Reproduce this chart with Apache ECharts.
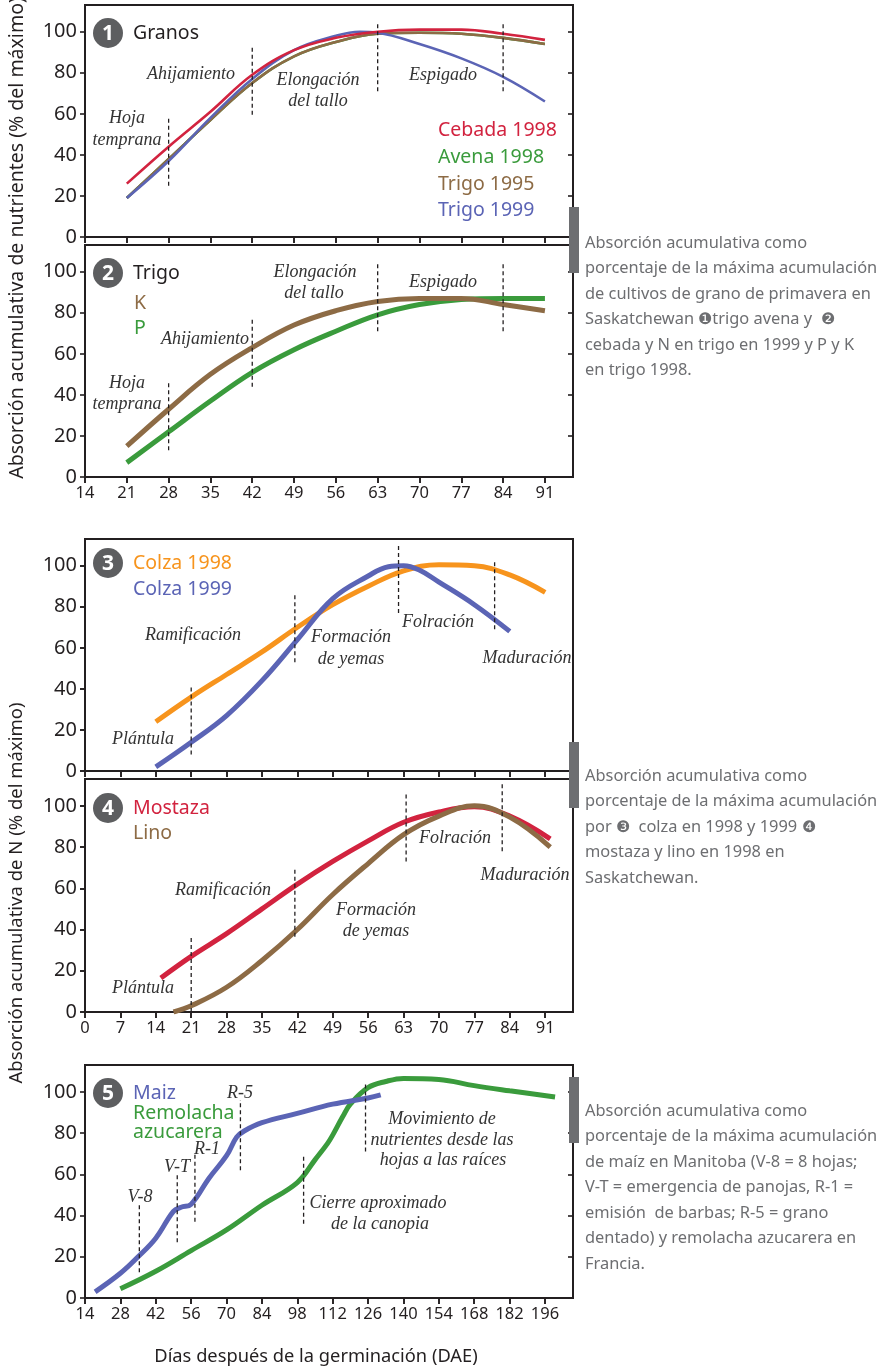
<!DOCTYPE html>
<html>
<head>
<meta charset="utf-8">
<script src="https://cdn.jsdelivr.net/npm/echarts@6/dist/echarts.min.js"></script>
<style>
  html, body { margin: 0; padding: 0; background: #ffffff; }
  #chart { width: 877px; height: 1371px; }
</style>
</head>
<body>
<div id="chart"></div>
<script>
// ---- Panel 1: cereals, cumulative uptake (% of maximum) by days after germination
const cebada1998 = [[21,26],[28,44],[35,61],[42,79],[49,91],[56,97],[63,100],[70,101],[77,101],[84,99],[91,96]];
const avena1998  = [[21,19],[28,38],[35,57],[42,75],[49,88],[56,95],[63,99],[70,99.5],[77,99],[84,97],[91,94]];
const trigo1995  = [[21,19],[28,38],[35,57],[42,75],[49,88],[56,95],[63,99],[70,99.5],[77,99],[84,97],[91,94]];
const trigo1999  = [[21,19],[28,37],[35,58],[42,77],[49,91],[56,98],[60,100],[63,99.5],[70,94],[77,87],[84,78],[91,66]];
// ---- Panel 2: wheat, K and P
const trigoK = [[21,15],[28,33],[35,50],[42,63],[49,74],[56,81],[63,85.5],[70,87],[77,87],[84,84],[91,81]];
const trigoP = [[21,7],[28,22],[35,37],[42,51],[49,62],[56,71],[63,79],[70,84],[77,86.5],[84,87],[91,87]];
// ---- Panel 3: canola N
const colza1998 = [[14,24],[21,36],[28,47],[35,58],[42,70],[49,81],[56,90],[63,97.5],[70,100.5],[77,100],[84,95.5],[91,87]];
const colza1999 = [[14,2],[21,14],[28,27],[35,44],[42,64],[49,84],[56,95],[60,99.5],[63,100],[66,98],[70,92],[77,81],[84,68]];
// ---- Panel 4: mustard and flax N
const mostaza = [[15,16.5],[21,27],[28,38],[35,50],[42,62],[49,73],[56,83],[63,92],[70,97],[77,99.5],[84,95],[92,84]];
const lino    = [[17.5,0],[21,3],[28,12],[35,25],[42,40],[49,57],[56,72],[63,86],[70,95],[77,100],[84,94.5],[92,80]];
// ---- Panel 5: maize and sugar beet
const maiz = [[18,3],[28,12],[35,20],[42,29],[49,42],[52,44],[56,45.5],[63,58],[70,69],[74,78],[77,81],[84,85],[98,89.5],[112,94],[126,97],[131,98.5]];
const remolacha = [[28,4.5],[42,13],[56,23],[70,33],[84,45],[98,56],[105,67],[110,75],[112,79],[116,88],[119,94],[126,102],[133,105],[140,106.5],[154,106],[168,103],[182,100.5],[200,97.5]];

// Growth-stage markers: [day, lower %, upper %]
const granosStages  = [[28,25,58.5],[42,59.5,92.5],[63,71,104.5],[84,71,104.5]];
const trigoStages   = [[28,13,47],[42,44,77.5],[63,71,104],[84,71,104]];
const colzaStages   = [[21,8,42],[41.5,53,86],[62,77,110],[81,69,102]];
const mostazaStages = [[21,0,36.5],[41.5,36.5,70],[63.5,73,106],[82.5,78,111]];
const maizStages    = [[35.5,12.5,46],[50.5,27,60.5],[57.5,37,70],[75.5,62,96],[100.5,36,69],[125,71,105]];

// Tick values
const ticksCereal = [14,21,28,35,42,49,56,63,70,77,84,91];
const ticksOil    = [0,7,14,21,28,35,42,49,56,63,70,77,84,91];
const ticksMaize  = [14,28,42,56,70,84,98,112,126,140,154,168,182,196];
const ticksPct    = [0,20,40,60,80,100];

const INK = '#231f20';
const GREY = '#6d6e71';
const C = { red:'#d2233f', green:'#3a9b3c', brown:'#8d6b45', blue:'#5b64b5', orange:'#f7941d' };
const SANS = "'Noto Sans', sans-serif";
const SERIF = "'Liberation Serif', serif";

const grids = [], xAxes = [], yAxes = [], series = [];

function addPanel(top, height, xMin, xMax, xTicks, showXLabels) {
  const g = grids.length;
  grids.push({ left: 85, top: top, width: 488, height: height, show: true,
    borderColor: INK, borderWidth: 2, backgroundColor: 'transparent', outerBoundsMode: 'none' });
  // main axes (outer ticks + labels) and companion axes (inner ticks) so ticks cross the frame
  xAxes.push({ gridIndex: g, type: 'value', min: xMin, max: xMax, splitLine: { show: false },
    axisLine: { show: true, lineStyle: { color: INK, width: 2 } },
    axisTick: { show: true, length: 6, customValues: xTicks, lineStyle: { color: INK, width: 1.6 } },
    axisLabel: { show: showXLabels, customValues: xTicks, color: INK, fontSize: 16.5, fontFamily: SANS, margin: 8 } });
  xAxes.push({ gridIndex: g, type: 'value', min: xMin, max: xMax, splitLine: { show: false },
    axisLine: { show: false }, axisLabel: { show: false },
    axisTick: { show: true, inside: true, length: 6, customValues: xTicks, lineStyle: { color: INK, width: 1.6 } } });
  yAxes.push({ gridIndex: g, type: 'value', min: 0, max: 113, splitLine: { show: false },
    axisLine: { show: true, lineStyle: { color: INK, width: 2 } },
    axisTick: { show: true, length: 5, customValues: ticksPct, lineStyle: { color: INK, width: 1.6 } },
    axisLabel: { customValues: ticksPct, color: INK, fontSize: 20, fontFamily: SANS, margin: 8 } });
  yAxes.push({ gridIndex: g, type: 'value', min: 0, max: 113, splitLine: { show: false },
    axisLine: { show: false }, axisLabel: { show: false },
    axisTick: { show: true, inside: true, length: 5, customValues: ticksPct, lineStyle: { color: INK, width: 1.6 } } });
  return g;
}

function curve(g, data, color, width) {
  series.push({ type: 'line', xAxisIndex: 2 * g, yAxisIndex: 2 * g, data: data,
    smooth: 0.4, showSymbol: false, symbol: 'none', silent: true,
    lineStyle: { color: color, width: width, cap: 'butt' }, z: 2 });
}

function stages(g, list) {
  list.forEach(function (s) {
    series.push({ type: 'line', xAxisIndex: 2 * g, yAxisIndex: 2 * g,
      data: [[s[0], s[1]], [s[0], s[2]]], symbol: 'none', silent: true,
      lineStyle: { color: INK, width: 1.3, type: [4, 3] }, z: 3 });
  });
}

const p1 = addPanel(5, 232, 14, 95.7, ticksCereal, false);
const p2 = addPanel(245, 232, 14, 95.7, ticksCereal, true);
const p3 = addPanel(539, 232, 0, 96.5, ticksOil, false);
const p4 = addPanel(779, 233, 0, 96.5, ticksOil, true);
const p5 = addPanel(1065, 233, 14, 207.1, ticksMaize, true);

curve(p1, avena1998, C.green, 2.6);
curve(p1, trigo1995, C.brown, 2.6);
curve(p1, trigo1999, C.blue, 2.6);
curve(p1, cebada1998, C.red, 2.6);
stages(p1, granosStages);

curve(p2, trigoP, C.green, 5);
curve(p2, trigoK, C.brown, 5);
stages(p2, trigoStages);

curve(p3, colza1998, C.orange, 5);
curve(p3, colza1999, C.blue, 5);
stages(p3, colzaStages);

curve(p4, mostaza, C.red, 5);
curve(p4, lino, C.brown, 5);
stages(p4, mostazaStages);

curve(p5, remolacha, C.green, 5);
curve(p5, maiz, C.blue, 5);
stages(p5, maizStages);

// ---- text and decorations
const graphic = [];
function txt(x, y, text, opt) {
  opt = opt || {};
  graphic.push({ type: 'text', x: x, y: y, rotation: opt.rotation || 0, z: 20,
    style: { text: text, fill: opt.color || INK, fontSize: opt.size || 18,
      fontFamily: opt.family || SANS, fontStyle: opt.style || 'normal', fontWeight: opt.weight || 'normal',
      align: opt.align || 'left', verticalAlign: opt.valign || 'middle' } });
}
function stageTxt(x, y, text) { txt(x, y, text, { family: SERIF, style: 'italic', size: 18, align: 'center', color: '#333333' }); }
function badge(cy, n) {
  graphic.push({ type: 'circle', shape: { cx: 108, cy: cy, r: 15 }, style: { fill: '#5d5e60' }, z: 20 });
  txt(108, cy + 1, String(n), { color: '#ffffff', size: 21, weight: 'bold', align: 'center' });
}

const LEG = 19.5;
// panel badges, titles and legends
badge(33, 1);  txt(133, 33, 'Granos', { size: LEG });
txt(438, 130, 'Cebada 1998', { size: LEG, color: C.red });
txt(438, 157, 'Avena 1998', { size: LEG, color: C.green });
txt(438, 184, 'Trigo 1995', { size: LEG, color: C.brown });
txt(438, 210, 'Trigo 1999', { size: LEG, color: C.blue });

badge(273, 2); txt(133, 273, 'Trigo', { size: LEG });
txt(134, 303, 'K', { size: LEG, color: C.brown });
txt(134, 328, 'P', { size: LEG, color: C.green });

badge(563, 3);
txt(133, 563, 'Colza 1998', { size: LEG, color: C.orange });
txt(133, 589, 'Colza 1999', { size: LEG, color: C.blue });

badge(808, 4);
txt(133, 808, 'Mostaza', { size: LEG, color: C.red });
txt(133, 833, 'Lino', { size: LEG, color: C.brown });

badge(1093, 5);
txt(133, 1093, 'Maiz', { size: LEG, color: C.blue });
txt(133, 1113, 'Remolacha', { size: LEG, color: C.green });
txt(133, 1132, 'azucarera', { size: LEG, color: C.green });

// growth-stage names
stageTxt(127, 118, 'Hoja'); stageTxt(127, 140, 'temprana');
stageTxt(191, 74, 'Ahijamiento');
stageTxt(318, 80, 'Elongación'); stageTxt(318, 101, 'del tallo');
stageTxt(443, 75, 'Espigado');

stageTxt(127, 383, 'Hoja'); stageTxt(127, 404, 'temprana');
stageTxt(205, 339, 'Ahijamiento');
stageTxt(315, 272, 'Elongación'); stageTxt(314, 293, 'del tallo');
stageTxt(443, 282, 'Espigado');

stageTxt(193, 635, 'Ramificación');
stageTxt(143, 739, 'Plántula');
stageTxt(351, 637, 'Formación'); stageTxt(351, 659, 'de yemas');
stageTxt(438, 622, 'Folración');
stageTxt(527, 658, 'Maduración');

stageTxt(143, 988, 'Plántula');
stageTxt(223, 890, 'Ramificación');
stageTxt(376, 910, 'Formación'); stageTxt(376, 931, 'de yemas');
stageTxt(455, 838, 'Folración');
stageTxt(525, 875, 'Maduración');

stageTxt(140, 1197, 'V-8');
stageTxt(177, 1167, 'V-T');
stageTxt(207, 1149, 'R-1');
stageTxt(240, 1093, 'R-5');
stageTxt(378, 1203, 'Cierre aproximado'); stageTxt(380, 1224, 'de la canopia');
stageTxt(442, 1119, 'Movimiento de'); stageTxt(442, 1140, 'nutrientes desde las'); stageTxt(443, 1160, 'hojas a las raíces');

// axis titles
txt(17, 238, 'Absorción acumulativa de nutrientes (% del máximo)', { size: 19.5, align: 'center', rotation: Math.PI / 2 });
txt(17, 893, 'Absorción acumulativa de N (% del máximo)', { size: 18.5, align: 'center', rotation: Math.PI / 2 });
txt(316, 1357, 'Días después de la germinación (DAE)', { size: 18.3, align: 'center' });

// side captions with grey markers
[[207, 273], [742, 808], [1077, 1143]].forEach(function (b) {
  graphic.push({ type: 'rect', shape: { x: 569, y: b[0], width: 10, height: b[1] - b[0] }, style: { fill: GREY }, z: 25 });
});
function caption(top, lines) {
  lines.forEach(function (l, i) { txt(585, top + i * 25.5, l, { size: 16.4, color: GREY }); });
}
caption(243, ['Absorción acumulativa como', 'porcentaje de la máxima acumulación', 'de cultivos de grano de primavera en',
  'Saskatchewan \u2776trigo avena y  \u2777', 'cebada y N en trigo en 1999 y P y K', 'en trigo 1998.']);
caption(776, ['Absorción acumulativa como', 'porcentaje de la máxima acumulación', 'por \u2778  colza en 1998 y 1999 \u2779',
  'mostaza y lino en 1998 en', 'Saskatchewan.']);
caption(1111, ['Absorción acumulativa como', 'porcentaje de la máxima acumulación', 'de maíz en Manitoba (V-8 = 8 hojas;',
  'V-T = emergencia de panojas, R-1 =', 'emisión  de barbas; R-5 = grano', 'dentado) y remolacha azucarera en', 'Francia.']);

const chart = echarts.init(document.getElementById('chart'), null, { renderer: 'canvas' });
chart.setOption({
  animation: false,
  backgroundColor: '#ffffff',
  grid: grids,
  xAxis: xAxes,
  yAxis: yAxes,
  series: series,
  graphic: graphic
});
</script>
</body>
</html>
